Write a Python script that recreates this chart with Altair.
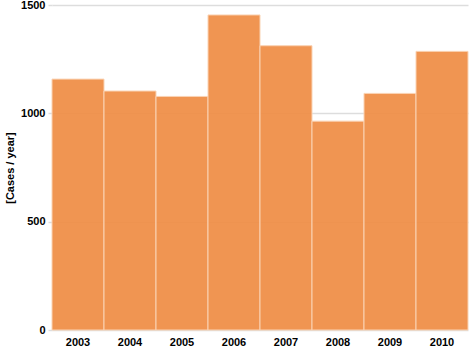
import altair as alt
import pandas as pd

years = ["2003", "2004", "2005", "2006", "2007", "2008", "2009", "2010"]
cases = [1158, 1103, 1078, 1454, 1312, 964, 1092, 1286]

df = pd.DataFrame({"year": years, "cases": cases})

chart = alt.Chart(df).mark_bar(
    color="#EF8C43", fillOpacity=0.92, stroke="#FAD3B4", strokeWidth=1
).encode(
    x=alt.X("year:O", title=None,
            scale=alt.Scale(paddingInner=0, paddingOuter=0),
            axis=alt.Axis(labelAngle=0, ticks=False, domain=False,
                          labelFont="Liberation Sans", labelFontWeight="bold",
                          labelFontSize=11, labelColor="#000", labelPadding=6)),
    y=alt.Y("cases:Q", title="[Cases / year]",
            scale=alt.Scale(domain=[0, 1500], nice=False),
            axis=alt.Axis(values=[0, 500, 1000, 1500], format="d", domain=False,
                          tickColor="#DDDDDD", tickSize=4, tickWidth=1.5,
                          gridColor="#DDDDDD", gridWidth=1.5,
                          labelFont="Liberation Sans", labelFontWeight="bold",
                          labelFontSize=11, labelColor="#000", labelPadding=3,
                          titleFont="Liberation Sans", titleFontWeight="bold",
                          titleFontSize=11, titleColor="#000", titlePadding=5)),
).properties(
    width=416, height=325,
    autosize=alt.AutoSizeParams(type="none"),
    padding={"left": 52, "top": 5, "right": 5, "bottom": 16},
).configure_view(stroke=None)

chart.save("out.html", embed_options={"renderer": "svg", "actions": False})
